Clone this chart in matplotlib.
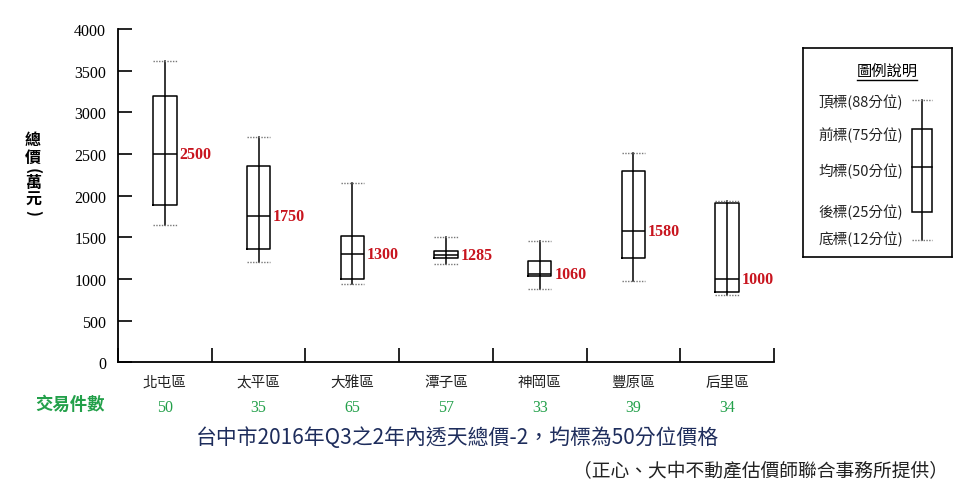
import matplotlib
matplotlib.use("Agg")
import matplotlib.pyplot as plt
import matplotlib.transforms as mtransforms
import numpy as np

# ---- data ----
districts = ["北屯區", "太平區", "大雅區", "潭子區", "神岡區", "豐原區", "后里區"]
counts = [50, 35, 65, 57, 33, 39, 34]
p88 = [3610, 2700, 2150, 1500, 1460, 2510, 1940]
p75 = [3190, 2350, 1510, 1340, 1210, 2290, 1910]
p50 = [2500, 1750, 1300, 1285, 1060, 1580, 1000]
p25 = [1890, 1360, 1000, 1250, 1040, 1250, 840]
p12 = [1650, 1200, 940, 1180, 880, 980, 810]
yticks = [0, 500, 1000, 1500, 2000, 2500, 3000, 3500, 4000]
legend_labels = ["頂標(88分位)", "前標(75分位)", "均標(50分位)", "後標(25分位)", "底標(12分位)"]

W, H = 971, 502
CJK = ["Noto Sans CJK TC", "DejaVu Sans"]
SERIF = ["Liberation Serif", "DejaVu Serif"]
RED = "#C8141E"
GREEN = "#23A04A"
NAVY = "#1E2D5C"

fig = plt.figure(figsize=(W / 100, H / 100), dpi=100)
fig.patch.set_facecolor("white")


def fx(x):
    return x / W


def fy(y):
    return 1 - y / H


# main axes
L, R, T, B = 118, 774, 30, 363.3
ax = fig.add_axes([fx(L), fy(B), fx(R - L), (B - T) / H])
pos = np.arange(len(districts))
ax.set_xlim(-0.5, len(districts) - 0.5)
ax.set_ylim(0, 4000)

stats = [dict(med=m, q1=a, q3=b, whislo=lo, whishi=hi, fliers=[])
         for m, a, b, lo, hi in zip(p50, p25, p75, p12, p88)]
bw = 0.25
ax.bxp(stats, positions=pos, widths=bw, capwidths=bw, showfliers=False,
       boxprops=dict(color="black", linewidth=1.1),
       whiskerprops=dict(color="black", linewidth=1.1),
       capprops=dict(color="#777777", linewidth=1.0, linestyle=(0, (1, 1))),
       medianprops=dict(color="black", linewidth=1.1))
ax.vlines(pos, p25, p75, color="black", linewidth=1.1)

for x, m in zip(pos, p50):
    ax.annotate(str(m), (x + bw / 2, m), xytext=(2, 0), textcoords="offset points",
                ha="left", va="center", color=RED, fontweight="bold",
                family=SERIF, fontsize=11.5)

for s in ["top", "right"]:
    ax.spines[s].set_visible(False)
for s in ["left", "bottom"]:
    ax.spines[s].set_linewidth(1.3)

ax.set_yticks(yticks)
ax.set_yticklabels([str(v) for v in yticks], family=SERIF, fontsize=11.5)
ax.tick_params(axis="y", direction="in", length=10, width=1.2, pad=8.5)
ax.set_xticks(np.arange(-0.5, len(districts), 1.0))
ax.set_xticklabels([])
ax.tick_params(axis="x", which="major", direction="in", length=10, width=1.2)
ax.set_xticks(pos, minor=True)
ax.set_xticklabels(districts, minor=True, family=CJK, fontsize=10.5, color="#222222")
ax.tick_params(axis="x", which="minor", length=0, pad=9)

# y label (stacked vertical characters)
ylab = [("總", 140, 0), ("價", 158, 0), ("(", 171, -90), ("萬", 183, 0),
        ("元", 200, 0), (")", 213, -90)]
for ch, yy, rot in ylab:
    fig.text(fx(33), fy(yy), ch, ha="center", va="center", rotation=rot,
             family=CJK, fontweight="bold", fontsize=11.5)

# counts row
tr = mtransforms.blended_transform_factory(ax.transData, fig.transFigure)
for x, c in zip(pos, counts):
    ax.text(x, fy(408), str(c), transform=tr, ha="center", va="center",
            color=GREEN, family=SERIF, fontsize=11.5)
fig.text(fx(70), fy(405), "交易件數", ha="center", va="center", color=GREEN,
         family=CJK, fontweight="bold", fontsize=12.5)

# title & credit
fig.text(fx(457), fy(438), "台中市2016年Q3之2年內透天總價-2，均標為50分位價格",
         ha="center", va="center", color=NAVY, family=CJK, fontsize=15)
fig.text(fx(948), fy(472), "（正心、大中不動產估價師聯合事務所提供）",
         ha="right", va="center", color="#222222", family=CJK, fontsize=13.5)

# legend panel
lx0, lx1, ly0, ly1 = 803, 952, 49, 258
lax = fig.add_axes([fx(lx0), fy(ly1), fx(lx1 - lx0), (ly1 - ly0) / H])
lax.set_xlim(lx0, lx1)
lax.set_ylim(ly1, ly0)
lax.set_xticks([])
lax.set_yticks([])
for s in lax.spines.values():
    s.set_linewidth(1.2)
lax.text(887, 71, "圖例說明", ha="center", va="center", family=CJK, fontsize=11)
lax.plot([857, 917], [81, 81], color="black", linewidth=1.0)
label_y = [102, 135, 171, 212, 239]
for yy, t in zip(label_y, legend_labels):
    lax.text(903, yy, t, ha="right", va="center", family=CJK, fontsize=10.5, color="#222222")
gx, gw = 922, 20
g_top, g_q3, g_med, g_q1, g_bot = 101, 130, 168, 213, 241
lax.plot([gx, gx], [g_top, g_bot], color="black", linewidth=1.1)
lax.add_patch(plt.Rectangle((gx - gw / 2, g_q3), gw, g_q1 - g_q3, fill=False,
                            edgecolor="black", linewidth=1.1))
lax.plot([gx - gw / 2, gx + gw / 2], [g_med, g_med], color="black", linewidth=1.1)
for yy in (g_top, g_bot):
    lax.plot([gx - gw / 2, gx + gw / 2], [yy, yy], color="#777777", linewidth=1.0,
             linestyle=(0, (1, 1)))

fig.savefig("out.png", dpi=100, facecolor="white")
